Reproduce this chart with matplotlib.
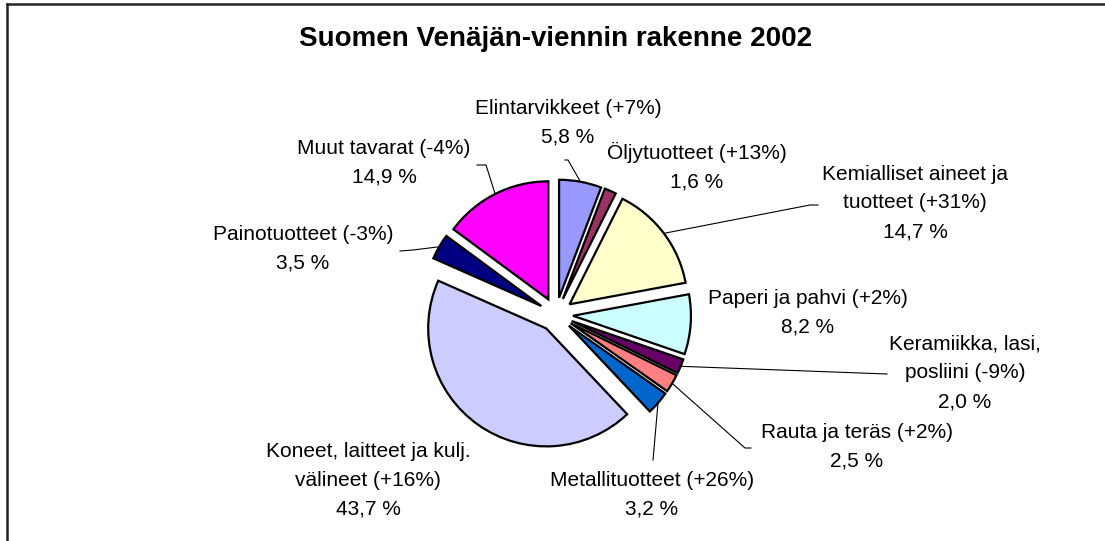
import matplotlib.pyplot as plt
from matplotlib.lines import Line2D
import numpy as np

# data
names = ['Elintarvikkeet', 'Öljytuotteet', 'Kemialliset aineet ja\ntuotteet', 'Paperi ja pahvi',
         'Keramiikka, lasi,\nposliini', 'Rauta ja teräs', 'Metallituotteet',
         'Koneet, laitteet ja kulj.\nvälineet', 'Painotuotteet', 'Muut tavarat']
changes = ['+7%', '+13%', '+31%', '+2%', '-9%', '+2%', '+26%', '+16%', '-3%', '-4%']
shares = [5.8, 1.6, 14.7, 8.2, 2.0, 2.5, 3.2, 43.7, 3.5, 14.9]
colors = ['#9999FF', '#993366', '#FFFFCC', '#CCFFFF', '#660066', '#FF8080',
          '#0066CC', '#CCCCFF', '#000080', '#FF00FF']

# label centres in pixels (from top-left) and leader line bends (None = no line)
label_pos = [(568, 123), (697, 167), (915, 203), (808, 313), (965, 373),
             (857, 447), (652, 495), (368, 480), (303, 249), (384, 163)]
leaders = [[(568, 160), (565, 160)], None, [(810, 205), (818, 205)], None,
           [(887, 374)], [(745, 448), (751, 448)], [(653, 460)], None,
           [(413, 250), (400, 251)], [(486, 165), (477, 165)]]

W, H = 1105, 541
R = 118.0          # pie radius in px
CX, CY = 556, 314.5  # pie centre in px

fig = plt.figure(figsize=(W / 100, H / 100), dpi=100)
ax = fig.add_axes([0, 0, 1, 1])


def px(x, y):
    return ((x - CX) / R, (CY - y) / R)


wedges, _ = ax.pie(shares, colors=colors, startangle=90, counterclock=False,
                   explode=[0.144] * len(shares), radius=1,
                   wedgeprops=dict(edgecolor='black', linewidth=1.6))
ax.set_aspect('auto')
ax.set_xlim(-CX / R, (W - CX) / R)
ax.set_ylim(-(H - CY) / R, CY / R)
ax.axis('off')

for i, w in enumerate(wedges):
    txt = '%s (%s)\n%s %%' % (names[i], changes[i], ('%.1f' % shares[i]).replace('.', ','))
    lx, ly = px(*label_pos[i])
    ax.text(lx, ly, txt, ha='center', va='center', fontsize=15,
            family='Liberation Sans', linespacing=1.65, color='black')
    if leaders[i] is not None:
        mid = np.deg2rad((w.theta1 + w.theta2) / 2)
        x0 = w.center[0] + w.r * np.cos(mid)
        y0 = w.center[1] + w.r * np.sin(mid)
        pts = [(x0, y0)] + [px(*p) for p in leaders[i]]
        ax.plot([p[0] for p in pts], [p[1] for p in pts], color='black', lw=0.8)

fig.text(556 / W, 1 - 39 / H, 'Suomen Venäjän-viennin rakenne 2002', ha='center', va='center',
         fontsize=20, fontweight='bold', family='Liberation Sans')

# chart border (top and left visible)
fig.add_artist(Line2D([7 / W, 1], [1 - 4 / H, 1 - 4 / H], transform=fig.transFigure, color='#222222', lw=1.8))
fig.add_artist(Line2D([7 / W, 7 / W], [0, 1 - 4 / H], transform=fig.transFigure, color='#222222', lw=1.8))

fig.savefig('out.png', dpi=100)
